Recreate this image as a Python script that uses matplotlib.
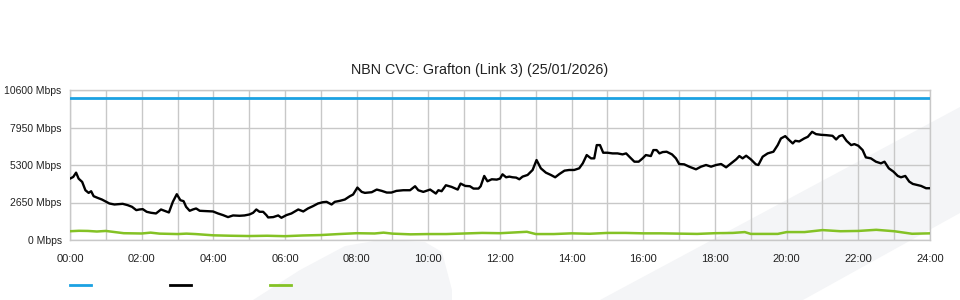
import matplotlib
matplotlib.use('Agg')
import matplotlib.pyplot as plt
from matplotlib.patches import Polygon
from matplotlib.lines import Line2D

# ── Data (hours since midnight, Mbps) ─────────────────────────────
capacity_hours = [0, 24]
capacity_mbps  = [10000, 10000]

down_hours = [0.00, 0.09, 0.17, 0.24, 0.34, 0.43, 0.52, 0.59, 0.66, 0.77, 0.89, 1.01,
              1.10, 1.24, 1.36, 1.47, 1.61, 1.73, 1.85, 1.94, 2.03, 2.14, 2.26, 2.40,
              2.54, 2.64, 2.76, 2.87, 2.98, 3.08, 3.17, 3.24, 3.34, 3.43, 3.52, 3.62,
              3.80, 3.99, 4.13, 4.27, 4.41, 4.55, 4.73, 4.87, 5.01, 5.11, 5.20, 5.29,
              5.39, 5.48, 5.53, 5.67, 5.81, 5.90, 6.04, 6.18, 6.37, 6.51, 6.64, 6.78,
              6.92, 7.06, 7.16, 7.30, 7.39, 7.53, 7.67, 7.81, 7.90, 8.02, 8.14, 8.23,
              8.42, 8.56, 8.70, 8.84, 8.97, 9.11, 9.30, 9.49, 9.63, 9.72, 9.86, 10.05,
              10.21, 10.28, 10.37, 10.49, 10.65, 10.82, 10.90, 11.03, 11.16, 11.26, 11.40, 11.46,
              11.56, 11.65, 11.77, 11.91, 12.00, 12.07, 12.17, 12.26, 12.35, 12.45, 12.54, 12.63,
              12.77, 12.91, 13.02, 13.14, 13.28, 13.42, 13.54, 13.66, 13.80, 13.93, 14.07, 14.21,
              14.31, 14.42, 14.54, 14.63, 14.70, 14.79, 14.88, 15.00, 15.14, 15.28, 15.42, 15.52,
              15.61, 15.75, 15.87, 15.98, 16.07, 16.21, 16.28, 16.37, 16.45, 16.54, 16.65, 16.80,
              16.91, 17.00, 17.14, 17.28, 17.47, 17.61, 17.75, 17.89, 18.03, 18.17, 18.31, 18.45,
              18.59, 18.68, 18.77, 18.87, 19.00, 19.14, 19.21, 19.33, 19.47, 19.63, 19.75, 19.84,
              19.96, 20.07, 20.17, 20.24, 20.35, 20.49, 20.59, 20.71, 20.82, 20.96, 21.10, 21.28,
              21.38, 21.47, 21.56, 21.67, 21.80, 21.89, 22.00, 22.12, 22.21, 22.35, 22.49, 22.63,
              22.73, 22.85, 22.98, 23.10, 23.19, 23.31, 23.42, 23.52, 23.63, 23.75, 23.89, 24.00]
down_mbps = [4338, 4456, 4760, 4338, 4104, 3517, 3330, 3447, 3095, 2978, 2861, 2697,
             2580, 2509, 2533, 2556, 2462, 2345, 2110, 2157, 2181, 1993, 1923, 1876,
             2157, 2064, 1946, 2697, 3236, 2814, 2744, 2345, 2064, 2157, 2228, 2064,
             2040, 2017, 1876, 1759, 1618, 1735, 1712, 1735, 1806, 1923, 2157, 1993,
             1993, 1759, 1595, 1618, 1735, 1571, 1759, 1876, 2157, 2017, 2228, 2392,
             2580, 2673, 2697, 2509, 2697, 2767, 2861, 3095, 3213, 3705, 3400, 3330,
             3377, 3564, 3471, 3353, 3353, 3471, 3517, 3517, 3799, 3517, 3400, 3564,
             3283, 3517, 3447, 3869, 3752, 3564, 3986, 3822, 3799, 3634, 3634, 3799,
             4526, 4150, 4291, 4268, 4338, 4643, 4432, 4479, 4432, 4409, 4291, 4479,
             4596, 4948, 5651, 5065, 4760, 4596, 4432, 4667, 4901, 4948, 4948, 5065,
             5417, 6003, 5769, 5769, 6707, 6707, 6167, 6167, 6120, 6120, 6050, 6120,
             5886, 5534, 5534, 5769, 6003, 5933, 6355, 6355, 6120, 6214, 6238, 6050,
             5769, 5370, 5347, 5182, 4995, 5182, 5300, 5182, 5300, 5370, 5136, 5417,
             5698, 5933, 5769, 5956, 5698, 5347, 5300, 5886, 6120, 6238, 6707, 7176,
             7340, 7058, 6824, 7011, 6965, 7176, 7293, 7645, 7481, 7434, 7410, 7363,
             7105, 7340, 7410, 7011, 6707, 6777, 6660, 6355, 5839, 5769, 5534, 5417,
             5534, 5065, 4831, 4526, 4432, 4526, 4127, 3963, 3893, 3822, 3658, 3658]

up_hours = [0.0, 0.25, 0.5, 0.75, 1.0, 1.25, 1.5, 2.0, 2.25, 2.5, 3.0, 3.25, 3.5, 4.0,
            4.5, 5.0, 5.5, 6.0, 6.5, 7.0, 7.5, 8.0, 8.5, 8.75, 9.0, 9.5, 10.0, 10.5,
            11.0, 11.5, 12.0, 12.75, 13.0, 13.5, 14.0, 14.5, 15.0, 15.5, 16.0, 16.5,
            17.0, 17.5, 18.0, 18.5, 18.83, 19.0, 19.75, 20.0, 20.5, 21.0, 21.5, 22.0,
            22.5, 23.0, 23.5, 24.0]
up_mbps = [620, 650, 640, 600, 640, 560, 480, 460, 520, 450, 420, 450, 420, 330,
           300, 280, 300, 270, 320, 350, 420, 480, 460, 520, 450, 400, 420, 420,
           460, 500, 480, 580, 420, 420, 470, 440, 500, 500, 470, 470,
           450, 430, 480, 500, 560, 430, 430, 560, 560, 700, 620, 640,
           720, 620, 440, 470]

y_ticks  = [0, 2650, 5300, 7950, 10600]
x_ticks  = list(range(0, 25, 2))
x_labels = [f'{h:02d}:00' for h in x_ticks]

plt.rcParams['font.family'] = ['Liberation Sans', 'DejaVu Sans']

fig = plt.figure(figsize=(9.6, 3.0), dpi=100)
fig.patch.set_facecolor('white')

# faint background watermark shapes, on a full-figure axes behind the chart
bg = fig.add_axes([0, 0, 1, 1], zorder=-1)
bg.set_xlim(0, 960)
bg.set_ylim(300, 0)
bg.axis('off')
wm = '#f4f5f7'
bg.add_patch(Polygon([(600, 300), (960, 107), (960, 213), (803, 300)],
                     closed=True, facecolor=wm, edgecolor='none'))
bg.add_patch(Polygon([(253, 300), (300, 270), (345, 246), (380, 240), (425, 242),
                      (442, 252), (452, 290), (452, 300)],
                     closed=True, facecolor=wm, edgecolor='none'))

ax = fig.add_axes([70 / 960, 0.2, 860 / 960, 0.5], zorder=1)
ax.set_facecolor('none')

ax.plot(capacity_hours, capacity_mbps, color='#1ba1e2', lw=2.0, zorder=3)
ax.plot(down_hours, down_mbps, color='black', lw=1.7, zorder=4)
ax.plot(up_hours, up_mbps, color='#84c225', lw=1.8, zorder=3)

ax.set_xlim(0, 24)
ax.set_ylim(0, 10600)
ax.set_xticks(range(0, 25))
ax.set_xticklabels([x_labels[i // 2] if i % 2 == 0 else '' for i in range(25)])
ax.set_yticks(y_ticks)
ax.set_yticklabels([f'{v} Mbps' for v in y_ticks])
ax.tick_params(length=0, colors='#222222')
ax.tick_params(axis='x', labelsize=8, pad=10)
ax.tick_params(axis='y', labelsize=7.5, pad=6)
ax.grid(True, color='#c8c8c8', lw=1.0)
ax.set_axisbelow(True)
for s in ax.spines.values():
    s.set_color('#c8c8c8')
    s.set_linewidth(1.0)

fig.text(480 / 960, 1 - 70 / 300, 'NBN CVC: Grafton (Link 3) (25/01/2026)',
         fontsize=10.3, color='#222222', ha='center', va='center')

# legend swatches without labels
for x0, c in [(70, '#1ba1e2'), (170, 'black'), (270, '#84c225')]:
    fig.add_artist(Line2D([x0 / 960, (x0 + 21) / 960], [1 - 285 / 300] * 2,
                          color=c, lw=2.0, transform=fig.transFigure))

plt.savefig('out.png', dpi=100)
plt.close()
